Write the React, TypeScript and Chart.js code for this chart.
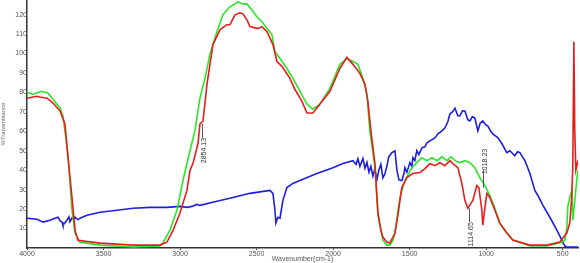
import React, { useEffect, useRef } from 'react';
import { Chart, registerables } from 'chart.js';

Chart.register(...registerables);

// x ticks (wavenumber, cm-1) and y ticks (%T)
const xTicks = [4000, 3500, 3000, 2500, 2000, 1500, 1000, 500];
const yTicks = [10, 20, 30, 40, 50, 60, 70, 80, 90, 100, 110, 120];

// Red spectrum
const redWn = [4000, 3940, 3915, 3869, 3830, 3784, 3752, 3732, 3706, 3686, 3667, 3523, 3308, 3131, 3086, 3046, 3001, 2955, 2935, 2916, 2883, 2870, 2850, 2824, 2785, 2739, 2694, 2674, 2641, 2609, 2589, 2563, 2543, 2491, 2465, 2432, 2393, 2367, 2334, 2282, 2250, 2204, 2171, 2132, 2086, 2021, 1956, 1910, 1870, 1825, 1792, 1773, 1753, 1727, 1707, 1688, 1675, 1649, 1629, 1609, 1596, 1577, 1551, 1518, 1479, 1433, 1400, 1368, 1335, 1302, 1270, 1237, 1217, 1185, 1159, 1139, 1120, 1087, 1061, 1048, 1028, 1022, 1008, 995, 976, 943, 911, 865, 826, 714, 604, 519, 473, 454, 441, 434, 427, 421, 414, 408, 401];
const redT = [77, 78, 77.6, 77, 74.5, 70.4, 63.8, 46.4, 26, 9, 4, 2.5, 1.5, 1.5, 3, 9, 17.9, 29.6, 39.8, 43.4, 53.6, 63.8, 65.3, 84.2, 104.6, 112.2, 114.8, 114.8, 119.9, 120.9, 120.4, 117.3, 113.8, 112.8, 113.8, 111.2, 104.6, 95.9, 93.4, 87.2, 81.6, 75.5, 69.4, 69.4, 74, 80.6, 92.3, 98, 94.4, 89.8, 84.2, 75.5, 60.2, 43.4, 17.9, 9.2, 5.6, 3.1, 2.6, 5.6, 7.7, 16.8, 31.1, 36.2, 38.3, 38.8, 40.8, 43.4, 42.3, 43.9, 42.3, 44.9, 43.4, 41.3, 33.2, 24.5, 20.4, 24.5, 32.1, 31.1, 19.4, 11.7, 20.9, 28.1, 26, 19.4, 12.8, 7.7, 4.1, 1.5, 1.5, 3.1, 7.7, 12.8, 26, 42, 106, 60, 40, 42, 45];

// Green spectrum
const greenWn = [4000, 3961, 3902, 3863, 3830, 3784, 3765, 3732, 3706, 3686, 3654, 3523, 3308, 3131, 3112, 3066, 3020, 2981, 2935, 2903, 2870, 2837, 2805, 2759, 2720, 2674, 2641, 2622, 2589, 2563, 2530, 2498, 2465, 2432, 2400, 2380, 2347, 2302, 2263, 2217, 2171, 2132, 2086, 2021, 1956, 1910, 1870, 1838, 1805, 1779, 1760, 1727, 1707, 1675, 1649, 1629, 1609, 1596, 1564, 1531, 1485, 1453, 1420, 1387, 1355, 1322, 1289, 1256, 1230, 1204, 1172, 1139, 1106, 1074, 1041, 1008, 976, 943, 911, 865, 826, 714, 604, 519, 486, 473, 467, 454, 441, 434, 421, 408, 401];
const greenT = [80.1, 79.1, 80.6, 79.6, 76.5, 71.9, 67.9, 48, 19.4, 7.7, 3, 1.5, 0.5, 1, 2.6, 9.2, 19.4, 34.7, 50, 60.2, 77, 87.2, 99.5, 111.2, 119.9, 124, 125.5, 126.5, 125.5, 125.5, 122.4, 118.9, 116.3, 112.8, 109.7, 101, 97.4, 92.3, 87.2, 80.6, 74, 71.4, 74, 82.1, 94.4, 97.4, 95.9, 94.4, 87.2, 79.1, 60.2, 42, 17, 4, 1.5, 1.5, 4, 7.7, 26, 34.7, 41.3, 43.9, 46.4, 44.9, 46.4, 44.9, 46.9, 44.9, 46.9, 44.9, 43.9, 44.9, 43.9, 41.3, 36.2, 32.1, 27, 20.4, 12.8, 7.7, 4.1, 1, 1, 2.6, 4, 10.7, 20.9, 26, 29.6, 14.3, 24.5, 34.7, 39.8];

// Blue spectrum
const blueWn = [4000, 3935, 3895, 3850, 3817, 3798, 3784, 3771, 3765, 3752, 3739, 3726, 3719, 3706, 3700, 3693, 3686, 3667, 3654, 3608, 3523, 3412, 3308, 3197, 3086, 3001, 2955, 2922, 2890, 2870, 2759, 2654, 2543, 2413, 2393, 2380, 2374, 2361, 2347, 2328, 2302, 2263, 2217, 2106, 2001, 1936, 1870, 1850, 1838, 1825, 1805, 1792, 1779, 1766, 1753, 1740, 1727, 1714, 1701, 1688, 1675, 1662, 1649, 1636, 1616, 1596, 1583, 1570, 1551, 1538, 1531, 1518, 1498, 1485, 1479, 1466, 1453, 1440, 1420, 1400, 1387, 1368, 1335, 1315, 1289, 1270, 1250, 1237, 1220, 1204, 1185, 1172, 1155, 1139, 1120, 1106, 1090, 1074, 1054, 1040, 1022, 1005, 989, 970, 956, 923, 897, 865, 845, 813, 795, 780, 747, 714, 682, 662, 630, 584, 538, 506, 486, 473, 400];
const blueT = [15.3, 14.8, 13.3, 14.3, 15.3, 15.8, 14, 13.3, 11.7, 13, 14.3, 16, 13.5, 15.3, 16.5, 14, 15.8, 14.5, 15.3, 16.8, 18.4, 19.4, 20.4, 20.9, 20.9, 21.4, 20.9, 21.4, 22.4, 21.9, 24, 26, 28.1, 29.6, 28.1, 19.4, 12.8, 15.8, 15.3, 24.5, 31.1, 33.2, 34.7, 38.3, 41.3, 43.4, 44.9, 43, 45.9, 42, 46, 41, 44, 39, 42, 37, 40.8, 35, 40, 43, 36, 38, 42, 47, 49, 50, 40, 35, 34.7, 38, 41.3, 39, 43.9, 42, 46.4, 45, 50, 48, 51.5, 52, 54.1, 55.1, 56.6, 58.7, 60.2, 61.7, 65, 68.9, 70, 71.9, 68, 67.9, 70.5, 70.4, 66, 65.3, 67.5, 66.8, 60.2, 64, 65.3, 63.5, 62.7, 60, 58.7, 56.6, 53.6, 49, 50, 47.4, 49.5, 49, 44.9, 38.3, 29.6, 27, 22, 15.8, 9.2, 4.1, 1, 0.5, 0.5];

// Peak annotations
const annotWn = [2854.13, 1114.65, 1018.23];
const annotText = ['2854.13', '1114.65', '1018.23'];
const annotLineFrom = [63.8, 20.4, 31];
const annotLineTo = [56.6, 13.3, 40];
const annotTextTop = [56.6, 13.3, 51];

const toPoints = (xs: number[], ys: number[]) => xs.map((x, i) => ({ x, y: ys[i] }));

const annotationPlugin = {
  id: 'peakLabels',
  afterDatasetsDraw(chart: any) {
    const { ctx, scales } = chart;
    const xs = scales.x;
    const ys = scales.y;
    ctx.save();
    ctx.strokeStyle = '#555';
    ctx.lineWidth = 1;
    ctx.fillStyle = '#333';
    ctx.font = '7px "Liberation Sans", Arial, sans-serif';
    annotWn.forEach((wn, i) => {
      const px = Math.round(xs.getPixelForValue(wn)) + 0.5;
      ctx.beginPath();
      ctx.moveTo(px, ys.getPixelForValue(annotLineFrom[i]));
      ctx.lineTo(px, ys.getPixelForValue(annotLineTo[i]));
      ctx.stroke();
      ctx.save();
      ctx.translate(px + 2, ys.getPixelForValue(annotTextTop[i]));
      ctx.rotate(-Math.PI / 2);
      ctx.textAlign = 'right';
      ctx.textBaseline = 'middle';
      ctx.fillText(annotText[i], 0, 0);
      ctx.restore();
    });
    ctx.restore();
  },
};

export default function App() {
  const ref = useRef<HTMLCanvasElement | null>(null);
  useEffect(() => {
    if (!ref.current) return;
    Chart.defaults.font.family = '"Liberation Sans", Arial, sans-serif';
    const line = (label: string, xs: number[], ys: number[], color: string, order: number) => ({
      label,
      data: toPoints(xs, ys),
      borderColor: color,
      backgroundColor: color,
      borderWidth: 1.6,
      pointRadius: 0,
      pointHoverRadius: 0,
      pointBorderWidth: 0,
      pointHoverBorderWidth: 0,
      tension: 0,
      fill: false,
      clip: 0,
      order,
    });
    const chart = new Chart(ref.current, {
      type: 'line',
      data: {
        datasets: [
          line('red', redWn, redT, 'rgb(232,28,28)', 0),
          line('green', greenWn, greenT, 'rgb(40,230,40)', 1),
          line('blue', blueWn, blueT, 'rgb(30,30,225)', 2),
        ],
      },
      options: {
        animation: false,
        responsive: false,
        devicePixelRatio: 1,
        parsing: false as any,
        normalized: true,
        layout: { autoPadding: false, padding: { left: 0, right: 2, top: 0, bottom: 0 } },
        plugins: { legend: { display: false }, tooltip: { enabled: false } },
        scales: {
          x: {
            type: 'linear',
            reverse: true,
            min: 400,
            max: 4000,
            afterBuildTicks: (axis: any) => {
              axis.ticks = xTicks.map((v) => ({ value: v }));
            },
            afterFit: (axis: any) => {
              axis.height = 15;
              axis.paddingLeft = 0;
              axis.paddingRight = 0;
              axis.paddingTop = 0;
              axis.paddingBottom = 0;
            },
            ticks: {
              font: { size: 7 },
              color: '#555',
              padding: 0,
              maxRotation: 0,
              autoSkip: false,
              callback: (v: any) => String(v),
            },
            grid: { drawOnChartArea: false, tickLength: 2, color: '#333' },
            border: { display: true, color: '#333', width: 1.5 },
            title: { display: true, text: 'Wavenumber(cm-1)', font: { size: 7 }, color: '#555', padding: 0 },
          },
          y: {
            type: 'linear',
            min: 0,
            max: 127.5,
            afterBuildTicks: (axis: any) => {
              axis.ticks = yTicks.map((v) => ({ value: v }));
            },
            afterFit: (axis: any) => {
              axis.width = 27;
              axis.paddingLeft = 0;
              axis.paddingRight = 0;
              axis.paddingTop = 0;
              axis.paddingBottom = 0;
            },
            ticks: { font: { size: 7 }, color: '#555', padding: 0, autoSkip: false, callback: (v: any) => String(v) },
            grid: { drawOnChartArea: false, tickLength: 0, color: '#333' },
            border: { display: true, color: '#333', width: 1.5 },
            title: { display: true, text: '%Transmittance', font: { size: 6 }, color: '#666', padding: 0 },
          },
        },
      },
      plugins: [annotationPlugin],
    });
    return () => chart.destroy();
  }, []);
  return (
    <div style={{ position: 'fixed', left: 0, top: 0, width: 580, height: 263, background: '#fff' }}>
      <canvas ref={ref} width={580} height={263} style={{ display: 'block', width: 580, height: 263 }} />
    </div>
  );
}
